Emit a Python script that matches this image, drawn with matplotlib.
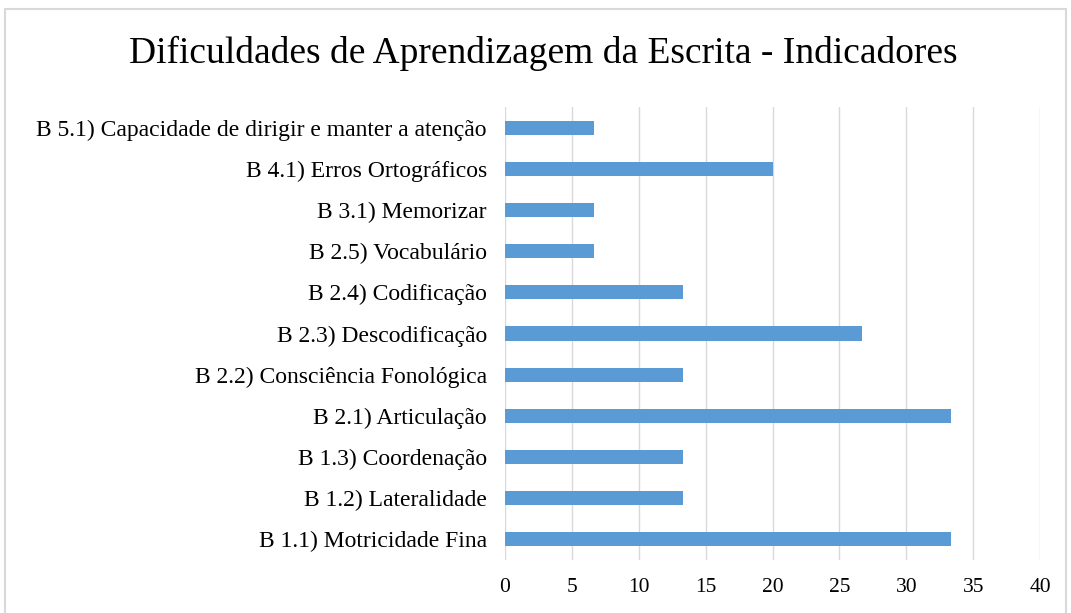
import matplotlib
matplotlib.use("Agg")
import matplotlib.pyplot as plt
from matplotlib.patches import Rectangle

categories = [
    "B 1.1) Motricidade Fina",
    "B 1.2) Lateralidade",
    "B 1.3) Coordenação",
    "B 2.1) Articulação",
    "B 2.2) Consciência Fonológica",
    "B 2.3) Descodificação",
    "B 2.4) Codificação",
    "B 2.5) Vocabulário",
    "B 3.1) Memorizar",
    "B 4.1) Erros Ortográficos",
    "B 5.1) Capacidade de dirigir e manter a atenção",
]
values = [33.33, 13.33, 13.33, 33.33, 13.33, 26.67, 13.33, 6.67, 6.67, 20.0, 6.67]
xticks = [0, 5, 10, 15, 20, 25, 30, 35, 40]
title = "Dificuldades de Aprendizagem da Escrita - Indicadores"

plt.rcParams['font.family'] = ['Liberation Serif', 'DejaVu Serif']

fig = plt.figure(figsize=(10.71, 6.13), dpi=100)
fig.patch.set_facecolor('white')
fig.patches.append(Rectangle((5/1071, -0.01), 1061/1071, (613-9)/613 + 0.01,
                             transform=fig.transFigure, fill=False,
                             edgecolor='#d9d9d9', linewidth=1.5))

ax = fig.add_axes([505/1071, (613-560)/613, (1040-505)/1071, (560-107)/613])
y = list(range(len(categories)))
ax.barh(y, values, height=0.34, color='#5b9bd5', zorder=3)
ax.set_xlim(0, 40)
ax.set_ylim(-0.5, len(categories) - 0.5)
ax.set_yticks(y)
ax.set_yticklabels(categories, fontsize=17)
ax.set_xticks(xticks)
ax.set_xticklabels([str(t) for t in xticks], fontsize=15.5)
ax.grid(axis='x', color='#d9d9d9', linewidth=1, zorder=0)
for s in ax.spines.values():
    s.set_visible(False)
ax.tick_params(axis='both', length=0)
ax.tick_params(axis='y', pad=13)
ax.tick_params(axis='x', pad=13)

fig.text(543/1071, 1 - 53/613, title, ha='center', va='center', fontsize=27)

fig.savefig('out.png', dpi=100)
